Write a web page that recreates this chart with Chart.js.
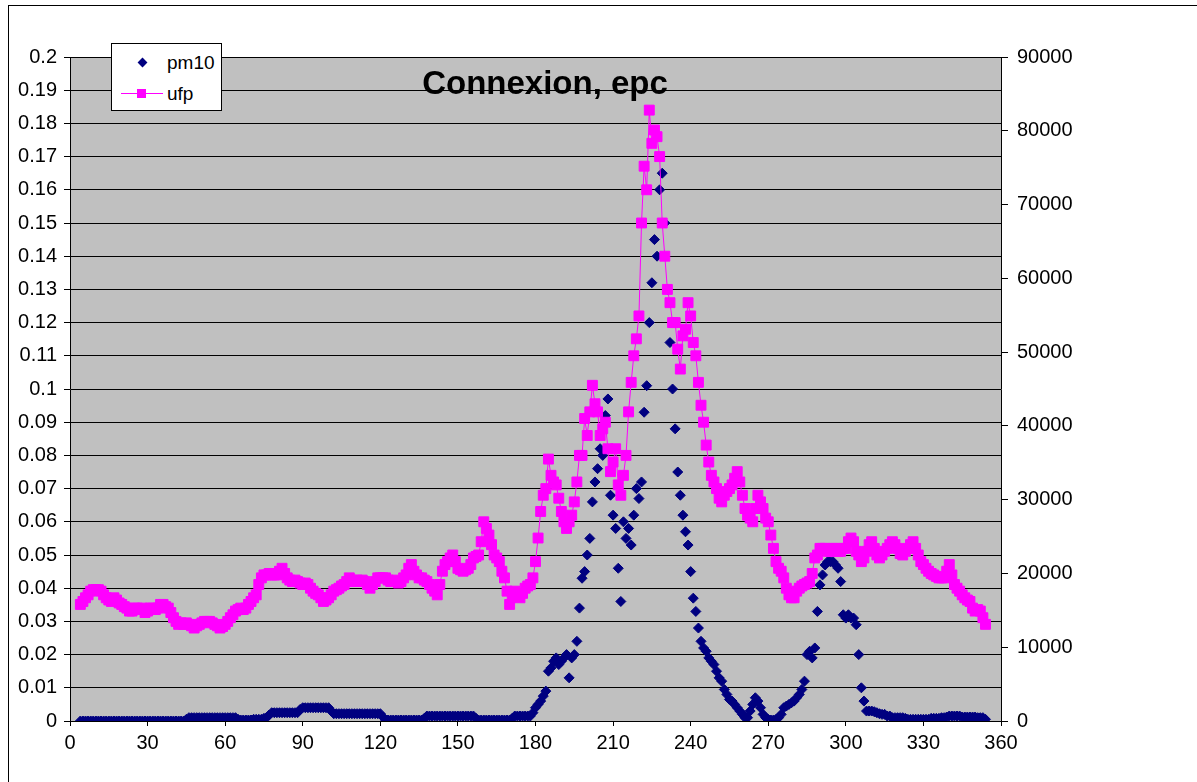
<!DOCTYPE html>
<html>
<head>
<meta charset="utf-8">
<title>Connexion, epc</title>
<script src="https://cdn.jsdelivr.net/npm/chart.js@4/dist/chart.umd.min.js"></script>
<style>
  html, body { margin: 0; padding: 0; background: #fff; overflow: hidden; }
  #wrap { position: relative; width: 1197px; height: 782px; font-family: "Liberation Sans", Arial, sans-serif; color: #000; }
  #frame { position: absolute; left: 8px; top: 5px; width: 1200px; height: 800px; border: 1px solid #000; }
  #usage-chart { position: absolute; left: 0; top: 0; }
  #title { position: absolute; left: 545px; top: 64px; transform: translateX(-50%); font-weight: bold; font-size: 33px; white-space: nowrap; }
  #legend { position: absolute; left: 111px; top: 43px; width: 109px; height: 66px; background: #fff; border: 1px solid #000; }
  .lg-text { position: absolute; font-size: 19px; line-height: 19px; }
  .lg-diamond { position: absolute; width: 7px; height: 7px; background: #000080; transform: rotate(45deg); }
  .lg-line { position: absolute; height: 1px; background: #ff00ff; }
  .lg-square { position: absolute; width: 9px; height: 9px; background: #ff00ff; }
</style>
</head>
<body>
<div id="wrap">
  <div id="frame"></div>
  <canvas id="usage-chart" width="1197" height="782"></canvas>
  <div id="title">Connexion, epc</div>
  <div id="legend">
    <div class="lg-diamond" style="left:27px; top:15px;"></div>
    <div class="lg-text" style="left:55px; top:9px;">pm10</div>
    <div class="lg-line" style="left:9px; top:49px; width:42px;"></div>
    <div class="lg-square" style="left:25px; top:45px;"></div>
    <div class="lg-text" style="left:55px; top:40px;">ufp</div>
  </div>
</div>
<script>
(function () {
  'use strict';

  // ── Data (one reading per second) ───────────────────────────────────
  var seconds = [
    4, 5, 6, 7, 8, 9, 10, 11, 12, 13,
    14, 15, 16, 17, 18, 19, 20, 21, 22, 23,
    24, 25, 26, 27, 28, 29, 30, 31, 32, 33,
    34, 35, 36, 37, 38, 39, 40, 41, 42, 43,
    44, 45, 46, 47, 48, 49, 50, 51, 52, 53,
    54, 55, 56, 57, 58, 59, 60, 61, 62, 63,
    64, 65, 66, 67, 68, 69, 70, 71, 72, 73,
    74, 75, 76, 77, 78, 79, 80, 81, 82, 83,
    84, 85, 86, 87, 88, 89, 90, 91, 92, 93,
    94, 95, 96, 97, 98, 99, 100, 101, 102, 103,
    104, 105, 106, 107, 108, 109, 110, 111, 112, 113,
    114, 115, 116, 117, 118, 119, 120, 121, 122, 123,
    124, 125, 126, 127, 128, 129, 130, 131, 132, 133,
    134, 135, 136, 137, 138, 139, 140, 141, 142, 143,
    144, 145, 146, 147, 148, 149, 150, 151, 152, 153,
    154, 155, 156, 157, 158, 159, 160, 161, 162, 163,
    164, 165, 166, 167, 168, 169, 170, 171, 172, 173,
    174, 175, 176, 177, 178, 179, 180, 181, 182, 183,
    184, 185, 186, 187, 188, 189, 190, 191, 192, 193,
    194, 195, 196, 197, 198, 199, 200, 201, 202, 203,
    204, 205, 206, 207, 208, 209, 210, 211, 212, 213,
    214, 215, 216, 217, 218, 219, 220, 221, 222, 223,
    224, 225, 226, 227, 228, 229, 230, 231, 232, 233,
    234, 235, 236, 237, 238, 239, 240, 241, 242, 243,
    244, 245, 246, 247, 248, 249, 250, 251, 252, 253,
    254, 255, 256, 257, 258, 259, 260, 261, 262, 263,
    264, 265, 266, 267, 268, 269, 270, 271, 272, 273,
    274, 275, 276, 277, 278, 279, 280, 281, 282, 283,
    284, 285, 286, 287, 288, 289, 290, 291, 292, 293,
    294, 295, 296, 297, 298, 299, 300, 301, 302, 303,
    304, 305, 306, 307, 308, 309, 310, 311, 312, 313,
    314, 315, 316, 317, 318, 319, 320, 321, 322, 323,
    324, 325, 326, 327, 328, 329, 330, 331, 332, 333,
    334, 335, 336, 337, 338, 339, 340, 341, 342, 343,
    344, 345, 346, 347, 348, 349, 350, 351, 352, 353,
    354
  ];

  // left axis
  var pm10 = [
    0, 0, 0, 0, 0, 0, 0, 0, 0, 0,
    0, 0, 0, 0, 0, 0, 0, 0, 0, 0,
    0, 0, 0, 0, 0, 0, 0, 0, 0, 0,
    0, 0, 0, 0, 0, 0, 0, 0, 0, 0,
    0, 0.0005, 0.001, 0.001, 0.001, 0.001, 0.001, 0.001, 0.001, 0.001,
    0.001, 0.001, 0.001, 0.001, 0.001, 0.001, 0.001, 0.001, 0.001, 0.001,
    0.001, 0.0005, 0.0003, 0.0003, 0.0003, 0.0003, 0.0003, 0.0005, 0.0005, 0.0005,
    0.0005, 0.0008, 0.001, 0.0018, 0.0025, 0.0025, 0.0025, 0.0025, 0.0025, 0.0025,
    0.0025, 0.0025, 0.0025, 0.0025, 0.0025, 0.0035, 0.004, 0.004, 0.004, 0.004,
    0.004, 0.004, 0.004, 0.004, 0.004, 0.004, 0.004, 0.003, 0.0022, 0.0022,
    0.0022, 0.0022, 0.0022, 0.0022, 0.0022, 0.0022, 0.0022, 0.0022, 0.0022, 0.0022,
    0.0022, 0.0022, 0.0022, 0.0022, 0.0022, 0.0022, 0.0022, 0.0012, 0.0003, 0.0003,
    0.0003, 0.0003, 0.0003, 0.0003, 0.0003, 0.0003, 0.0003, 0.0003, 0.0003, 0.0003,
    0.0003, 0.0003, 0.0003, 0.0008, 0.0015, 0.0015, 0.0015, 0.0015, 0.0015, 0.0015,
    0.0015, 0.0015, 0.0015, 0.0015, 0.0015, 0.0015, 0.0015, 0.0015, 0.0015, 0.0015,
    0.0015, 0.0015, 0.0015, 0.0008, 0.0003, 0.0003, 0.0003, 0.0003, 0.0003, 0.0003,
    0.0003, 0.0003, 0.0003, 0.0003, 0.0003, 0.0003, 0.0003, 0.0008, 0.0015, 0.0015,
    0.0015, 0.0015, 0.0015, 0.0015, 0.0015, 0.0025, 0.004, 0.005, 0.006, 0.0075,
    0.009, 0.015, 0.016, 0.018, 0.019, 0.017, 0.018, 0.019, 0.020, 0.013,
    0.019, 0.020, 0.024, 0.034, 0.043, 0.045, 0.050, 0.055, 0.066, 0.072,
    0.076, 0.082, 0.080, 0.092, 0.097, 0.068, 0.062, 0.058, 0.046, 0.036,
    0.060, 0.055, 0.058, 0.053, 0.062, 0.070, 0.067, 0.072, 0.093, 0.101,
    0.120, 0.132, 0.145, 0.140, 0.160, 0.165, 0.150, 0.130, 0.114, 0.100,
    0.088, 0.075, 0.068, 0.062, 0.057, 0.053, 0.045, 0.037, 0.033, 0.028,
    0.024, 0.022, 0.021, 0.019, 0.018, 0.017, 0.015, 0.013, 0.012, 0.0095,
    0.008, 0.0065, 0.006, 0.005, 0.004, 0.003, 0.002, 0.001, 0.001, 0.003,
    0.005, 0.007, 0.006, 0.004, 0.002, 0.001, 0.0005, 0.0003, 0.0003, 0.0005,
    0.001, 0.002, 0.004, 0.0045, 0.005, 0.0055, 0.006, 0.007, 0.008, 0.0095,
    0.012, 0.020, 0.021, 0.019, 0.022, 0.033, 0.041, 0.044, 0.047, 0.048,
    0.048, 0.048, 0.047, 0.046, 0.042, 0.032, 0.031, 0.032, 0.031, 0.031,
    0.029, 0.020, 0.010, 0.006, 0.003, 0.003, 0.003, 0.0028, 0.0025, 0.0022,
    0.002, 0.002, 0.0015, 0.0015, 0.001, 0.001, 0.001, 0.001, 0.001, 0.0008,
    0.0005, 0.0005, 0.0005, 0.0005, 0.0005, 0.0005, 0.0005, 0.0005, 0.0005, 0.0008,
    0.0008, 0.0008, 0.0008, 0.001, 0.001, 0.0012, 0.0015, 0.0015, 0.0015, 0.0015,
    0.0015, 0.0012, 0.0012, 0.0012, 0.0012, 0.0012, 0.0012, 0.001, 0.001, 0.001,
    0.0005
  ];

  // right axis
  var ufp = [
    15800, 16200, 16700, 17100, 17600, 17800, 17800, 17800, 17600, 17100,
    16700, 16400, 16200, 16700, 16400, 16000, 15800, 15500, 15300, 14900,
    14900, 15300, 15300, 15100, 15300, 14700, 14900, 15300, 15300, 15100,
    15300, 15800, 15800, 15500, 15300, 14700, 14000, 13500, 13100, 13300,
    13100, 13300, 13100, 12900, 12600, 12900, 13100, 13300, 13500, 13500,
    13500, 13300, 13100, 12900, 12600, 12800, 13100, 13500, 14000, 14400,
    14900, 15100, 15300, 15100, 15300, 15800, 16200, 16700, 17100, 18500,
    19400, 19800, 19800, 20000, 19800, 19800, 19800, 20300, 20700, 20000,
    19400, 19100, 18900, 19100, 18900, 18700, 18500, 18700, 18500, 18000,
    17600, 17300, 17100, 16700, 16200, 16400, 16700, 17100, 17600, 17800,
    18000, 18300, 18500, 18900, 19400, 19100, 18900, 19100, 18900, 19100,
    18900, 18500, 18000, 18500, 18900, 19400, 19400, 19400, 19400, 19100,
    18900, 19100, 18900, 18700, 18900, 19400, 19800, 20700, 21200, 20300,
    19800, 19400, 19400, 19100, 18900, 18500, 18000, 17600, 17100, 18500,
    20300, 21200, 21600, 22100, 22500, 21600, 20700, 20500, 20300, 20500,
    20700, 21200, 22100, 22300, 22500, 24300, 27000, 26100, 25200, 23900,
    22500, 22100, 21600, 20300, 19400, 17600, 15800, 17100, 17600, 17100,
    16700, 17300, 18000, 18300, 18500, 19400, 21600, 24800, 28400, 30600,
    31500, 35500, 33300, 32400, 32000, 30200, 28400, 27000, 26100, 27000,
    27900, 29700, 32400, 36000, 36000, 41000, 38700, 41900, 45500, 43000,
    41900, 38700, 39600, 40500, 36900, 33800, 35100, 36900, 32000, 30600,
    33300, 36000, 41900, 45900, 49500, 51800, 54900, 67500, 75200, 72000,
    82800, 78300, 80100, 79200, 76500, 67500, 63000, 58500, 56700, 54000,
    54000, 50400, 47700, 52200, 53100, 56700, 54900, 51300, 49500, 45900,
    42800, 40500, 37400, 35100, 33300, 32400, 31500, 30200, 29700, 30600,
    31100, 31500, 32000, 32900, 33800, 32400, 30600, 28800, 27900, 27500,
    27000, 28800, 30600, 29700, 28800, 27500, 27000, 25200, 23400, 21600,
    20700, 20300, 19400, 18000, 17100, 16700, 16700, 17600, 18000, 18300,
    18500, 18700, 18900, 20000, 22100, 22500, 23400, 23400, 23400, 23000,
    23000, 23400, 23400, 23000, 23000, 23400, 23400, 24300, 24800, 24300,
    23000, 22500, 21600, 22100, 23000, 23900, 24300, 23400, 22500, 22100,
    22500, 23000, 23400, 23900, 24300, 23900, 23400, 22700, 22500, 23000,
    23400, 23900, 24300, 23400, 22500, 21600, 21200, 20700, 20300, 20000,
    19800, 19600, 19400, 19400, 19400, 20300, 21200, 19800, 18500, 18000,
    17600, 17100, 16700, 16400, 16200, 15300, 14900, 15100, 14900, 14000,
    13100
  ];

  var xTicks = { min: 0, max: 360, step: 30 };
  var leftTicks = { min: 0, max: 0.2, step: 0.01 };
  var rightTicks = { min: 0, max: 90000, step: 10000 };

  // ── Styling ─────────────────────────────────────────────────────────
  var navy = '#000080';
  var magenta = '#ff00ff';
  var plotGrey = '#c0c0c0';

  Chart.defaults.font.family = '"Liberation Sans", Arial, sans-serif';
  Chart.defaults.font.size = 20;
  Chart.defaults.color = '#000';

  function pairs(ys) {
    return seconds.map(function (s, i) { return { x: s, y: ys[i] }; });
  }

  // grey plot area, drawn under grid and points
  var plotBackground = {
    id: 'plotBackground',
    beforeDraw: function (chart) {
      var a = chart.chartArea;
      var ctx = chart.ctx;
      ctx.save();
      ctx.fillStyle = plotGrey;
      ctx.fillRect(a.left, a.top, a.right - a.left, a.bottom - a.top);
      ctx.restore();
    }
  };

  var canvas = document.getElementById('usage-chart');

  new Chart(canvas.getContext('2d'), {
    type: 'scatter',
    data: {
      datasets: [
        {
          label: 'pm10',
          data: pairs(pm10),
          yAxisID: 'y',
          showLine: false,
          pointStyle: 'rectRot',
          pointRadius: 5,
          backgroundColor: navy,
          borderColor: navy,
          borderWidth: 1,
          order: 2
        },
        {
          label: 'ufp',
          data: pairs(ufp),
          yAxisID: 'y2',
          showLine: true,
          borderColor: magenta,
          borderWidth: 1,
          pointStyle: 'rect',
          pointRadius: 7,
          pointBackgroundColor: magenta,
          pointBorderColor: magenta,
          pointBorderWidth: 1,
          order: 1
        }
      ]
    },
    options: {
      responsive: false,
      animation: false,
      events: [],
      layout: { padding: { top: 57, left: 0, right: 0, bottom: 0 } },
      plugins: {
        legend: { display: false }, // html legend inside the plot
        tooltip: { enabled: false },
        title: { display: false }
      },
      scales: {
        x: {
          type: 'linear',
          position: 'bottom',
          min: xTicks.min,
          max: xTicks.max,
          afterFit: function (s) { s.height = 61; },
          ticks: { stepSize: xTicks.step, padding: 5, autoSkip: false, maxRotation: 0 },
          grid: { drawOnChartArea: false, color: '#000', tickLength: 5 },
          border: { color: '#000', width: 1 }
        },
        y: {
          position: 'left',
          min: leftTicks.min,
          max: leftTicks.max,
          afterFit: function (s) { s.width = 70; },
          ticks: {
            stepSize: leftTicks.step,
            padding: 7,
            autoSkip: false,
            callback: function (v) { return String(Math.round(v * 100) / 100); }
          },
          grid: { color: '#000', lineWidth: 1, tickLength: 6 },
          border: { color: '#000', width: 1 }
        },
        y2: {
          position: 'right',
          min: rightTicks.min,
          max: rightTicks.max,
          afterFit: function (s) { s.width = 196; },
          ticks: {
            stepSize: rightTicks.step,
            padding: 9,
            autoSkip: false,
            callback: function (v) { return String(v); }
          },
          grid: { drawOnChartArea: false, color: '#000', tickLength: 7 },
          border: { color: '#000', width: 1 }
        }
      }
    },
    plugins: [plotBackground]
  });
})();
</script>
</body>
</html>
